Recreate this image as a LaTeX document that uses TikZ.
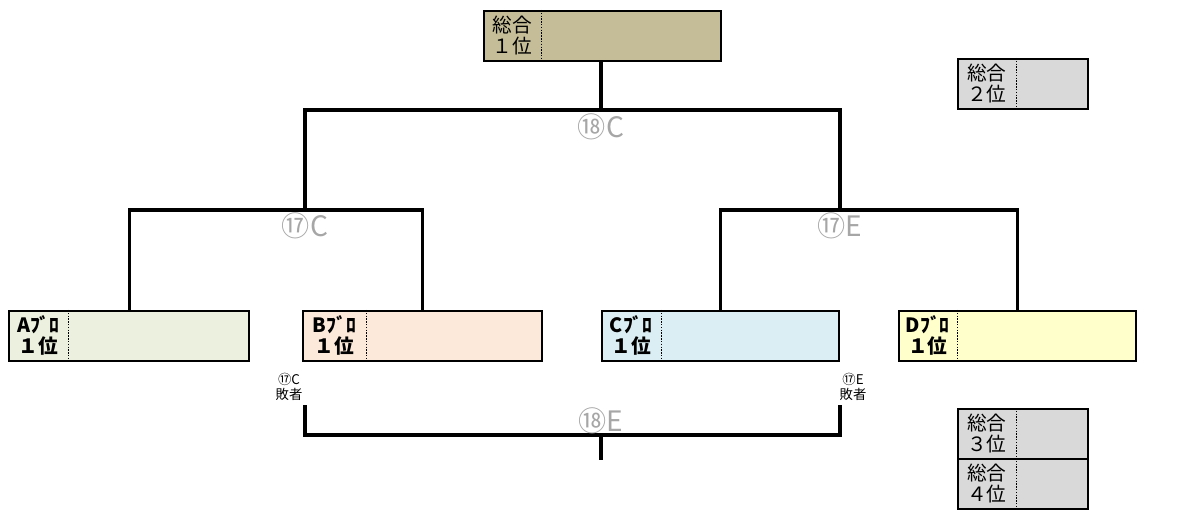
\documentclass[tikz,border=0pt]{standalone}
\usepackage{fontspec}
\setmainfont{Noto Sans CJK JP}
\definecolor{sogo1}{HTML}{C4BD97}
\definecolor{sogo}{HTML}{D9D9D9}
\definecolor{blkA}{HTML}{EBF1DE}
\definecolor{blkB}{HTML}{FDE9D9}
\definecolor{blkC}{HTML}{DAEEF3}
\definecolor{blkD}{HTML}{FFFFCC}
\definecolor{matchgray}{HTML}{A6A6A6}
\tikzstyle{every picture}+=[line join=miter]

\begin{document}
\begin{tikzpicture}[x=0.025cm,y=-0.025cm,
	box/.style={draw, line width=1.6pt, inner sep=0pt, minimum height=1.25cm, anchor=north west},
	rank/.style={inner sep=0pt, minimum height=1.25cm, anchor=north west, align=right,
		font=\fontsize{14}{15}\selectfont},
	blk/.style={rank, align=center, font=\fontsize{14}{15}\selectfont\bfseries},
	divider/.style={dotted, line width=1pt, dash pattern=on 1pt off 1pt},
	bracket/.style={line width=2.2pt},
	match/.style={text=matchgray, inner sep=0pt, font=\fontsize{20}{22}\selectfont},
	loser/.style={inner sep=0pt, align=center, font=\fontsize{9.5}{11}\selectfont}]
	\useasboundingbox (0,0) rectangle (1195,510);
	% final
	\node[box, fill=sogo1, minimum width=5.925cm] (top) at (483,10) {};
	\node[rank, minimum width=1.45cm] (ltop) at (top.north west) {総合\\１位};
	\draw[divider] (ltop.north east) -- (ltop.south east);
	% overall places
	\node[box, fill=sogo, minimum width=3.25cm] (s2) at (957,58) {};
	\node[rank, minimum width=1.475cm] (ls2) at (s2.north west) {総合\\２位};
	\draw[divider] (ls2.north east) -- (ls2.south east);
	\node[box, fill=sogo, minimum width=3.25cm] (s3) at (957,408) {};
	\node[rank, minimum width=1.475cm] (ls3) at (s3.north west) {総合\\３位};
	\draw[divider] (ls3.north east) -- (ls3.south east);
	\node[box, fill=sogo, minimum width=3.25cm] (s4) at (957,458) {};
	\node[rank, minimum width=1.475cm] (ls4) at (s4.north west) {総合\\４位};
	\draw[divider] (ls4.north east) -- (ls4.south east);
	% block winners
	\node[box, fill=blkA, minimum width=6cm] (a) at (8,310) {};
	\node[blk, minimum width=1.5cm] (la) at (a.north west) {Aﾌﾞﾛ\\１位};
	\draw[divider] (la.north east) -- (la.south east);
	\node[box, fill=blkB, minimum width=5.975cm] (b) at (302,310) {};
	\node[blk, minimum width=1.6cm] (lb) at (b.north west) {Bﾌﾞﾛ\\１位};
	\draw[divider] (lb.north east) -- (lb.south east);
	\node[box, fill=blkC, minimum width=5.925cm] (c) at (601,310) {};
	\node[blk, minimum width=1.5cm] (lc) at (c.north west) {Cﾌﾞﾛ\\１位};
	\draw[divider] (lc.north east) -- (lc.south east);
	\node[box, fill=blkD, minimum width=5.925cm] (d) at (898,310) {};
	\node[blk, minimum width=1.475cm] (ld) at (d.north west) {Dﾌﾞﾛ\\１位};
	\draw[divider] (ld.north east) -- (ld.south east);
	% bracket
	\coordinate (j17c) at (305,210);
	\coordinate (j17e) at (840,210);
	\coordinate (j18c) at (601,110);
	\draw[bracket] (a.north) |- (j17c) -| (b.north);
	\draw[bracket] (c.north) |- (j17e) -| (d.north);
	\draw[bracket] (j17c) |- (j18c) -| (j17e);
	\draw[bracket] (j18c) -- (j18c |- top.south);
	\node[match] (m18c) at (601,127) {⑱C};
	\node[match] (m17c) at (305,226) {⑰C};
	\node[match] (m17e) at (840,226) {⑰E};
	% third place
	\coordinate (l17c) at (305,405);
	\coordinate (l17e) at (840,405);
	\coordinate (j18e) at (601,435);
	\coordinate (e18e) at (601,460);
	\draw[bracket] (l17c) |- (j18e) -| (l17e);
	\draw[bracket] (j18e) -- (e18e);
	\node[match] (m18e) at (601,421) {⑱E};
	\node[loser] (x17c) at (289,387) {⑰C\\敗者};
	\node[loser] (x17e) at (853,387) {⑰E\\敗者};
\end{tikzpicture}
\end{document}
